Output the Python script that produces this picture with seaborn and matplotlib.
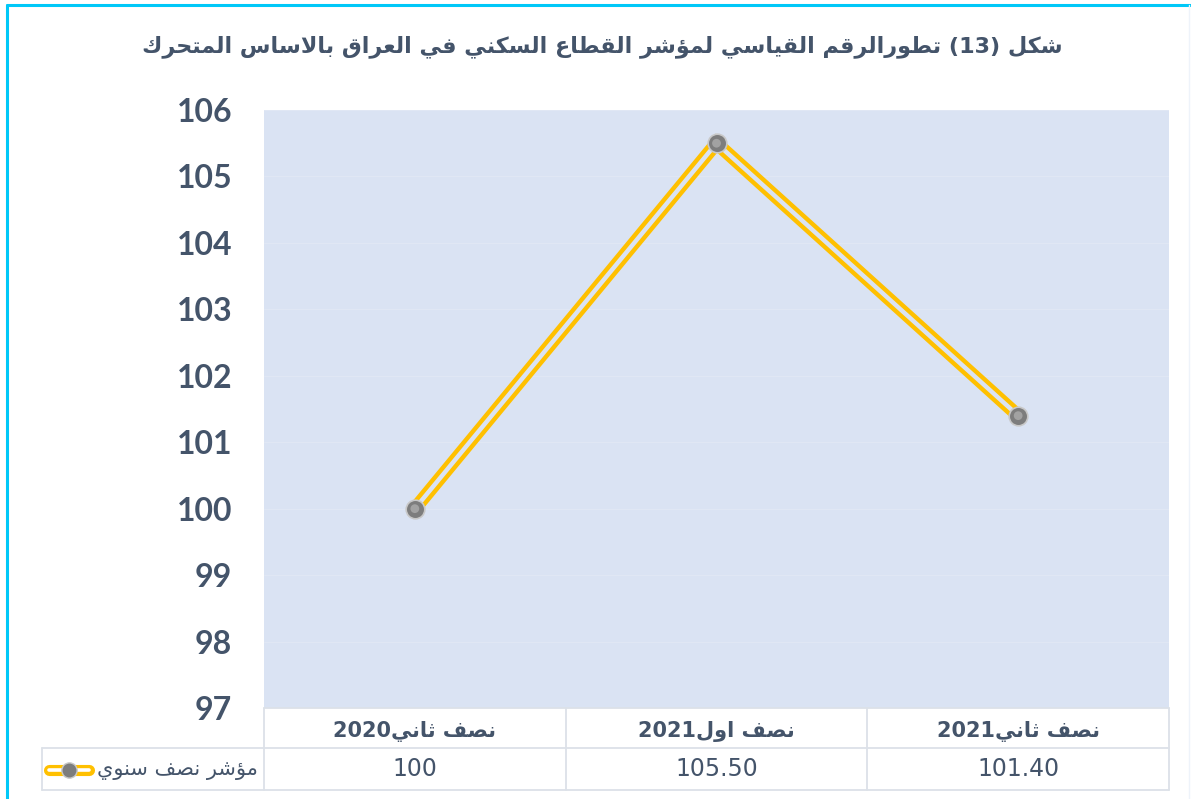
import re
import matplotlib
matplotlib.use("Agg")
import matplotlib.pyplot as plt
from matplotlib.lines import Line2D
import matplotlib.transforms as mtransforms
import seaborn as sns
import pandas as pd

# ---------------- data ----------------
title_text = "شكل (13) تطورالرقم القياسي لمؤشر القطاع السكني في العراق بالاساس المتحرك"
categories = ["نصف ثاني2020", "نصف اول2021", "نصف ثاني2021"]
values = [100.0, 105.50, 101.40]
value_labels = ["100", "105.50", "101.40"]
series_name = "مؤشر نصف سنوي"
y_ticks = [97, 98, 99, 100, 101, 102, 103, 104, 105, 106]

# ---------------- simple Arabic shaping ----------------
FORMS = {
    'ا': (0xFE8D, 2), 'ؤ': (0xFE85, 2), 'و': (0xFEED, 2), 'ر': (0xFEAD, 2),
    'ب': (0xFE8F, 4), 'ت': (0xFE95, 4), 'ث': (0xFE99, 4), 'ح': (0xFEA1, 4),
    'س': (0xFEB1, 4), 'ش': (0xFEB5, 4), 'ص': (0xFEB9, 4), 'ط': (0xFEC1, 4),
    'ع': (0xFEC9, 4), 'ف': (0xFED1, 4), 'ق': (0xFED5, 4), 'ك': (0xFED9, 4),
    'ل': (0xFEDD, 4), 'م': (0xFEE1, 4), 'ن': (0xFEE5, 4), 'ي': (0xFEF1, 4),
}
MIRROR = {'(': ')', ')': '('}


def shape(text):
    out = []
    n = len(text)
    i = 0
    while i < n:
        c = text[i]
        prev_j = i > 0 and text[i - 1] in FORMS and FORMS[text[i - 1]][1] == 4
        if c == 'ل' and i + 1 < n and text[i + 1] == 'ا':
            out.append(chr(0xFEFC if prev_j else 0xFEFB))
            i += 2
            continue
        if c in FORMS:
            base, k = FORMS[c]
            next_j = k == 4 and i + 1 < n and text[i + 1] in FORMS
            if prev_j and next_j:
                out.append(chr(base + 3))
            elif prev_j:
                out.append(chr(base + 1))
            elif next_j:
                out.append(chr(base + 2))
            else:
                out.append(chr(base))
        else:
            out.append(c)
        i += 1
    s = ''.join(out)
    parts = re.split(r'([0-9]+)', s)
    vis = []
    for p in reversed(parts):
        if p.isdigit():
            vis.append(p)
        else:
            vis.append(''.join(MIRROR.get(ch, ch) for ch in reversed(p)))
    return ''.join(vis)


# ---------------- style ----------------
sns.set_theme(style="white")
plt.rcParams['font.family'] = ['DejaVu Sans']
TXT = '#44546A'
BG = '#DAE3F3'
GRID = '#E0E7F4'
TBL = '#DCE1E8'
YEL = '#FFC000'

W, H = 1191, 799
fig = plt.figure(figsize=(W / 100, H / 100), dpi=100)
ax = fig.add_axes([264 / W, 1 - 708 / H, (1169 - 264) / W, (708 - 110) / H])
ax.set_facecolor(BG)

cat_disp = [shape(c) for c in categories]
df = pd.DataFrame({'cat': cat_disp, 'val': values})

sns.lineplot(data=df, x='cat', y='val', ax=ax, sort=False, color=YEL,
             linewidth=9.5, solid_joinstyle='miter', zorder=3)
sns.lineplot(data=df, x='cat', y='val', ax=ax, sort=False, color=BG,
             linewidth=3.2, solid_joinstyle='miter', zorder=4)
sns.scatterplot(data=df, x='cat', y='val', ax=ax, s=180, color='#7d7d7d',
                edgecolor='#c8c8c8', linewidth=1.2, zorder=5)
sns.scatterplot(data=df, x='cat', y='val', ax=ax, s=40, color='#a2a2a2',
                edgecolor='none', linewidth=0, zorder=6)

ax.set_xlim(-0.5, 2.5)
ax.set_ylim(97, 106)
ax.set_yticks(y_ticks)
ax.set_yticklabels([str(t) for t in y_ticks], fontfamily='Lato',
                   fontweight='bold', fontsize=23, color=TXT)
ax.tick_params(axis='y', length=0, pad=23)
ax.set_xticks(range(len(categories)))
ax.set_xticklabels(cat_disp, fontweight='bold', fontsize=15, color=TXT)
ax.tick_params(axis='x', length=0, pad=9)
ax.set_xlabel('')
ax.set_ylabel('')
ax.grid(axis='y', color=GRID, linewidth=0.8)
ax.set_axisbelow(True)
for sp in ax.spines.values():
    sp.set_visible(False)
legend = ax.get_legend()
if legend is not None:
    legend.remove()

# ---------------- data table ----------------
trans = mtransforms.blended_transform_factory(ax.transData, ax.transAxes)
row1 = -40 / 598   # bottom of header row (axes fraction)
row2 = -82 / 598   # bottom of data row
for xb in [-0.5, 0.5, 1.5, 2.5]:
    ax.add_line(Line2D([xb, xb], [0, row2], transform=trans, color=TBL,
                       linewidth=1.3, clip_on=False))
ax.add_line(Line2D([-0.5, 2.5], [0, 0], transform=trans, color=TBL,
                   linewidth=1.3, clip_on=False))
x0 = 42 / W
xr = 1169 / W
for yy in [748, 790]:
    fig.add_artist(Line2D([x0, xr], [1 - yy / H, 1 - yy / H], color=TBL, linewidth=1.3))
fig.add_artist(Line2D([x0, x0], [1 - 748 / H, 1 - 790 / H], color=TBL, linewidth=1.3))

for i, lab in enumerate(value_labels):
    ax.text(i, (row1 + row2) / 2, lab, transform=trans, ha='center', va='center',
            fontsize=17, color=TXT, clip_on=False)

# legend key inside table
ky = 1 - 770 / H
fig.add_artist(Line2D([49 / W, 89 / W], [ky, ky], color=YEL, linewidth=8,
                      solid_capstyle='round'))
fig.add_artist(Line2D([49 / W, 89 / W], [ky, ky], color='white', linewidth=2.6,
                      solid_capstyle='round'))
fig.add_artist(Line2D([69 / W], [ky], marker='o', markersize=11, color='#7d7d7d',
                      markeredgecolor='#c8c8c8', linestyle=''))
fig.text(258 / W, ky, shape(series_name), ha='right', va='center', fontsize=15,
         color=TXT)

# ---------------- title ----------------
fig.text(602 / W, 1 - 47 / H, shape(title_text), ha='center', va='center',
         fontsize=16, fontweight='bold', color=TXT)

# ---------------- frame ----------------
CY = '#00C8F8'
fig.add_artist(Line2D([7 / W, 1], [1 - 5 / H, 1 - 5 / H], color=CY, linewidth=2.2))
fig.add_artist(Line2D([7 / W, 7 / W], [1 - 5 / H, 0], color=CY, linewidth=2.2))
fig.add_artist(Line2D([1189 / W, 1189 / W], [1 - 5 / H, 0], color='#EEF3FA', linewidth=1))

fig.savefig('out.png', dpi=100, facecolor='white')
